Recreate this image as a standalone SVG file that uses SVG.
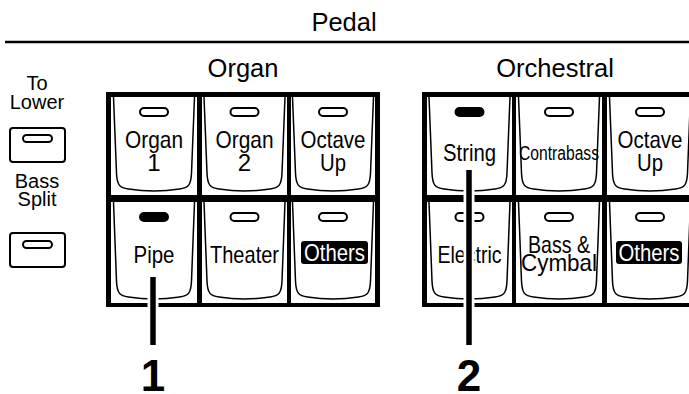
<svg xmlns="http://www.w3.org/2000/svg" xmlns:xlink="http://www.w3.org/1999/xlink" width="689" height="394" viewBox="0 0 689 394">
<style>
text{font-family:"Liberation Sans",Arial,sans-serif;text-anchor:middle;fill:#000}
.h{font-size:25.5px}
.s{font-size:20px}
.k{font-size:24px}
.w{fill:#fff}
.num{font-size:44px;font-weight:bold}
.cap{fill:#fff;stroke:#000;stroke-width:1.5}
.pill{fill:#fff;stroke:#000;stroke-width:2}
.lit{fill:#000;stroke:#000;stroke-width:2}
.frame{fill:#000}
.cell{fill:#fff}
.sb{fill:#fff;stroke:#000;stroke-width:2}
.halo{stroke:#fff;stroke-width:11}
.ptr{stroke:#000;stroke-width:5.5}
</style>
<defs>
<path id="capT" d="M2,0 L5,76 C5.5,88 8,91 17,92 Q42.5,96 68,92 C77,91 79.5,88 80,76 L83,0"/>
<path id="capB" d="M2,0 L5,79 C5.5,91 8,94 17,95 Q42.5,99 68,95 C77,94 79.5,91 80,79 L83,0"/>
</defs>

<g id="headers">
<text class="h" x="344" y="31">Pedal</text>
<line x1="5" y1="42" x2="689" y2="42" stroke="#000" stroke-width="2.5"/>
<text class="h" x="243" y="77">Organ</text>
<text class="h" x="555" y="77">Orchestral</text>
</g>

<g id="to-lower">
<text class="s" x="37" y="90">To</text>
<text class="s" x="37" y="109">Lower</text>
<rect class="sb" x="10" y="128" width="55" height="34" rx="3"/>
<rect class="pill" x="23" y="135" width="29" height="7" rx="3.5"/>
</g>
<g id="bass-split">
<text class="s" x="37" y="188">Bass</text>
<text class="s" x="37" y="206">Split</text>
<rect class="sb" x="10" y="233" width="55" height="34" rx="3"/>
<rect class="pill" x="23" y="241" width="29" height="7" rx="3.5"/>
</g>

<g id="organ-panel">
<rect class="frame" x="106" y="92" width="274" height="215"/>
<rect class="cell" x="111" y="97" width="86" height="98"/>
<rect class="cell" x="202" y="97" width="85" height="98"/>
<rect class="cell" x="291" y="97" width="84" height="98"/>
<rect class="cell" x="111" y="202" width="86" height="101"/>
<rect class="cell" x="202" y="202" width="85" height="101"/>
<rect class="cell" x="291" y="202" width="84" height="101"/>
</g>
<g id="organ1">
<use href="#capT" class="cap" x="111.5" y="97"/>
<rect class="pill" x="140" y="108" width="28" height="8" rx="4"/>
<text class="k" x="154" y="148" textLength="58" lengthAdjust="spacingAndGlyphs">Organ</text>
<text class="k" x="154" y="171">1</text>
</g>
<g id="organ2">
<use href="#capT" class="cap" x="202" y="97"/>
<rect class="pill" x="230.5" y="108" width="28" height="8" rx="4"/>
<text class="k" x="244.5" y="148" textLength="58" lengthAdjust="spacingAndGlyphs">Organ</text>
<text class="k" x="244.5" y="171">2</text>
</g>
<g id="organ-octave-up">
<use href="#capT" class="cap" x="290.5" y="97"/>
<rect class="pill" x="319" y="108" width="28" height="8" rx="4"/>
<text class="k" x="333" y="148" textLength="65" lengthAdjust="spacingAndGlyphs">Octave</text>
<text class="k" x="333" y="171" textLength="26" lengthAdjust="spacingAndGlyphs">Up</text>
</g>
<g id="pipe">
<use href="#capB" class="cap" x="111.5" y="202"/>
<rect class="lit" x="140" y="213" width="28" height="8" rx="4"/>
<text class="k" x="154" y="263" textLength="41" lengthAdjust="spacingAndGlyphs">Pipe</text>
</g>
<g id="theater">
<use href="#capB" class="cap" x="202" y="202"/>
<rect class="pill" x="230.5" y="213" width="28" height="8" rx="4"/>
<text class="k" x="244.5" y="263" textLength="69" lengthAdjust="spacingAndGlyphs">Theater</text>
</g>
<g id="organ-others">
<use href="#capB" class="cap" x="290.5" y="202"/>
<rect class="pill" x="319" y="213" width="28" height="8" rx="4"/>
<rect x="301" y="241" width="67" height="23" rx="3" fill="#000"/>
<text class="k w" x="334.5" y="261" textLength="61" lengthAdjust="spacingAndGlyphs">Others</text>
</g>

<g id="orchestral-panel">
<rect class="frame" x="422" y="92" width="280" height="215"/>
<rect class="cell" x="427" y="97" width="85" height="98"/>
<rect class="cell" x="516" y="97" width="86" height="98"/>
<rect class="cell" x="607" y="97" width="86" height="98"/>
<rect class="cell" x="427" y="202" width="85" height="101"/>
<rect class="cell" x="516" y="202" width="86" height="101"/>
<rect class="cell" x="607" y="202" width="86" height="101"/>
</g>
<g id="string">
<use href="#capT" class="cap" x="427" y="97"/>
<rect class="lit" x="455.5" y="108" width="28" height="8" rx="4"/>
<text class="k" x="469.5" y="161" textLength="53" lengthAdjust="spacingAndGlyphs">String</text>
</g>
<g id="contrabass">
<use href="#capT" class="cap" x="516.5" y="97"/>
<rect class="pill" x="545" y="108" width="28" height="8" rx="4"/>
<text x="559" y="160" font-size="20" textLength="80" lengthAdjust="spacingAndGlyphs">Contrabass</text>
</g>
<g id="orch-octave-up">
<use href="#capT" class="cap" x="607.5" y="97"/>
<rect class="pill" x="636" y="108" width="28" height="8" rx="4"/>
<text class="k" x="650" y="148" textLength="65" lengthAdjust="spacingAndGlyphs">Octave</text>
<text class="k" x="650" y="171" textLength="26" lengthAdjust="spacingAndGlyphs">Up</text>
</g>
<g id="electric">
<use href="#capB" class="cap" x="427" y="202"/>
<rect class="pill" x="455.5" y="213" width="28" height="8" rx="4"/>
<text class="k" x="469.5" y="263" textLength="64" lengthAdjust="spacingAndGlyphs">Electric</text>
</g>
<g id="bass-cymbal">
<use href="#capB" class="cap" x="516.5" y="202"/>
<rect class="pill" x="545" y="213" width="28" height="8" rx="4"/>
<text class="k" x="559" y="253" textLength="62" lengthAdjust="spacingAndGlyphs">Bass &amp;</text>
<text class="k" x="559" y="271" textLength="76" lengthAdjust="spacingAndGlyphs">Cymbal</text>
</g>
<g id="orch-others">
<use href="#capB" class="cap" x="607.5" y="202"/>
<rect class="pill" x="636" y="213" width="28" height="8" rx="4"/>
<rect x="616" y="241" width="66" height="23" rx="3" fill="#000"/>
<text class="k w" x="649" y="261" textLength="61" lengthAdjust="spacingAndGlyphs">Others</text>
</g>

<g id="connectors">
<line class="halo" x1="153" y1="277" x2="153" y2="345"/>
<line class="ptr" x1="153" y1="277" x2="153" y2="345"/>
<line class="halo" x1="469" y1="170" x2="469" y2="345"/>
<line class="ptr" x1="469" y1="170" x2="469" y2="345"/>
</g>
<g id="callouts">
<text class="num" x="153" y="391">1</text>
<text class="num" x="469" y="391">2</text>
</g>
</svg>
